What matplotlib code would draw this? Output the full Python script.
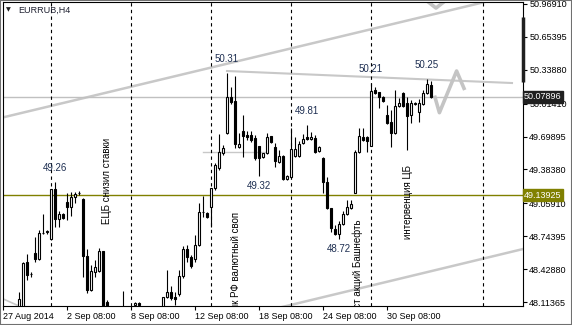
import numpy as np
import matplotlib
matplotlib.use("Agg")
import matplotlib.pyplot as plt
from matplotlib.patches import Rectangle
from matplotlib.transforms import blended_transform_factory

plt.rcParams['font.family'] = ['Liberation Sans', 'DejaVu Sans']

nan = np.nan
# H4 bars, one per 4 px slot (nan = bar lies below the visible range)
opens = [48.02, 48.06, 48.50, 48.38, 48.58, 48.53, 48.775, 48.785, 48.72, 49.20,
         48.91, 48.96, 49.07, 49.02, 49.12, 49.155, 49.10, 48.56, 48.23, 48.40,
         48.41, 48.60, 48.11, nan, nan, nan, 48.03, nan, nan, 48.085,
         48.105, nan, nan, nan, nan, nan, 48.02, 48.16, 48.21, 48.16,
         48.19, 48.36, 48.62, 48.545, 48.525, 48.66, 48.975, 48.965, 49.025, 49.205,
         49.40, 49.54, 49.73, 50.08, 50.04, 49.60, 49.75, 49.715, 49.715, 49.685,
         49.61, 49.50, 49.54, 49.705, 49.60, 49.455, 49.515, 49.29, 49.31, 49.515,
         49.515, 49.635, 49.695, 49.675, 49.685, 49.56, 49.495, 49.265, 49.015, 48.815,
         48.765, 48.86, 48.955, 49.015, 49.16, 49.55, 49.695, 49.695, 49.61, 50.145,
         50.125, 50.08, 49.905, 49.84, 49.735, 49.99, 50.115, 50.02, 49.905, 50.01,
         49.935, 50.01, 50.115, 50.195]
highs = [48.21, 48.50, 48.57, 48.40, 48.74, 48.80, 48.96, 48.80, 49.20, 49.26,
         48.99, 48.97, 49.16, 49.17, 49.17, 49.18, 49.11, 48.62, 48.47, 48.52,
         48.63, 48.60, 48.13, nan, nan, nan, 48.22, nan, nan, 48.115,
         48.11, nan, nan, nan, nan, nan, 48.16, 48.42, 48.27, 48.21,
         48.42, 48.65, 48.66, 48.565, 48.755, 49.06, 49.13, 48.975, 49.205, 49.445,
         49.725, 49.62, 50.31, 50.175, 50.28, 49.73, 49.905, 49.75, 49.75, 49.715,
         49.61, 49.54, 49.73, 49.705, 49.635, 49.57, 49.52, 49.33, 49.78, 49.695,
         49.655, 49.725, 49.81, 49.74, 49.715, 49.61, 49.505, 49.31, 49.015, 48.85,
         48.89, 48.985, 49.09, 49.09, 49.57, 49.78, 49.78, 49.705, 50.21, 50.175,
         50.125, 50.09, 50.00, 49.955, 50.145, 50.07, 50.125, 50.08, 50.05, 50.03,
         50.06, 50.145, 50.25, 50.23]
lows = [47.99, 48.04, 48.33, 48.35, 48.50, 48.52, 48.77, 48.77, 48.71, 48.83,
        48.83, 48.91, 48.90, 48.94, 49.06, 49.14, 48.35, 48.20, 48.22, 48.35,
        48.40, 47.99, 48.02, nan, nan, nan, 47.98, nan, nan, 48.04,
        48.04, nan, nan, nan, nan, nan, 47.99, 48.15, 48.13, 48.085,
        48.17, 48.34, 48.50, 48.44, 48.50, 48.65, 48.93, 48.92, 48.83, 49.19,
        49.38, 49.52, 49.72, 50.01, 49.59, 49.59, 49.505, 49.665, 49.645, 49.475,
        49.32, 49.495, 49.53, 49.635, 49.405, 49.445, 49.285, 49.285, 49.30, 49.505,
        49.505, 49.63, 49.665, 49.665, 49.54, 49.55, 49.16, 49.005, 48.785, 48.755,
        48.72, 48.85, 48.945, 49.005, 49.16, 49.54, 49.655, 49.55, 49.61, 50.105,
        49.975, 50.03, 49.82, 49.60, 49.725, 49.98, 49.98, 49.57, 49.83, 50.00,
        49.84, 50.00, 50.105, 50.07]
closes = [48.14, 48.49, 48.37, 48.385, 48.53, 48.78, 48.78, 48.79, 49.20, 48.91,
          48.96, 48.92, 49.02, 49.12, 49.15, 49.16, 48.555, 48.23, 48.41, 48.45,
          48.60, 48.02, 48.04, nan, nan, nan, 47.99, nan, nan, 48.105,
          48.085, nan, nan, nan, nan, nan, 48.16, 48.21, 48.15, 48.14,
          48.36, 48.62, 48.545, 48.46, 48.66, 48.975, 48.98, 48.93, 49.205, 49.425,
          49.55, 49.59, 50.08, 50.03, 49.63, 49.63, 49.705, 49.695, 49.665, 49.495,
          49.495, 49.54, 49.695, 49.645, 49.465, 49.515, 49.29, 49.32, 49.58, 49.58,
          49.63, 49.675, 49.675, 49.695, 49.55, 49.60, 49.265, 49.015, 48.825, 48.765,
          48.86, 48.955, 49.025, 49.055, 49.55, 49.705, 49.665, 49.655, 50.135, 50.115,
          50.08, 50.04, 49.83, 49.735, 49.99, 50.02, 49.99, 49.895, 50.02, 50.02,
          50.02, 50.115, 50.20, 50.079]

y_ticks = [50.96910, 50.65395, 50.33880, 50.01410, 49.69895, 49.38380,
           49.05910, 48.74395, 48.42880, 48.11365]
x_tick_pos = [-4, 12, 28, 44, 60, 76, 92]
x_tick_labels = ['27 Aug 2014', '2 Sep 08:00', '8 Sep 08:00', '12 Sep 08:00',
                 '18 Sep 08:00', '24 Sep 08:00', '30 Sep 08:00']
separators = [8, 28, 48, 68, 88, 116]

bid = 50.07896
level = 49.13925

# extreme labels: (bar index, price, above?)
extremes = [(9, 49.26, True), (52, 50.31, True), (60, 49.32, False),
            (72, 49.81, True), (80, 48.72, False), (88, 50.21, True), (102, 50.25, True)]

# news notes: (bar index, price, text, vertical anchor)
notes = [(22, 49.274, 'ЕЦБ снизил ставки', 'center'),
         (54.25, 48.976, 'Банк РФ валютный своп', 'top'),
         (84.75, 48.909, 'Арест акций Башнефть', 'top'),
         (97.25, 49.072, 'интервенция ЦБ', 'center')]

# drawn objects: (x0, p0, x1, p1)
channel_top = (4.75, 49.963, 45.5, 50.337)
channel_bot = (80.25, 48.20, 126.0, 48.622)
resistance = (52, 50.327, 123.25, 50.212)
zigzag_x = [104, 105.1, 109.4, 111.25]
zigzag_p = [50.075, 49.928, 50.327, 50.161]

fig = plt.figure(figsize=(5.72, 3.25), dpi=100)
ax = fig.add_axes([3 / 572, 19 / 325, 520 / 572, 304 / 325])
ax.set_xlim(-4, 126)
ax.set_ylim(48.0764, 50.988)

o = np.array(opens); h = np.array(highs); l = np.array(lows); c = np.array(closes)
idx = np.arange(len(o))

# trend lines
def extend(seg, x_a, x_b):
    x0, p0, x1, p1 = seg
    k = (p1 - p0) / (x1 - x0)
    return [x_a, x_b], [p0 + k * (x_a - x0), p0 + k * (x_b - x0)]

lc = '#c8c8c8'
xs, ps = extend(channel_top, -5, 127)
ax.plot(xs, ps, color=lc, lw=1.8, zorder=1)
xs, ps = extend(channel_bot, 60, 127)
ax.plot(xs, ps, color=lc, lw=1.8, zorder=1)
ax.plot([-5, -0.5], [48.162, 48.085], color=lc, lw=1.2, zorder=1)
ax.plot(resistance[0::2], resistance[1::2], color=lc, lw=1.5, zorder=1)
ax.plot([46, 62], [49.551, 49.551], color=lc, lw=1.0, zorder=1)
ax.plot(zigzag_x, zigzag_p, color='#c4c4c4', lw=2.6, zorder=1)
ax.plot([102.25, 104.25, 106.25], [50.99, 50.93, 50.99], color='#c4c4c4', lw=2.6, zorder=1)

ax.axhline(bid, color='#c0c0c0', lw=1.0, zorder=1)
ax.axhline(level, color='#808000', lw=1.0, zorder=1)

for s in separators:
    ax.axvline(s, color='black', lw=0.8, ls=(0, (3, 3)), zorder=1)

# candles
ax.vlines(idx, l, h, color='black', lw=0.8, zorder=2)
bull = c >= o
body_lo = np.minimum(o, c)
body_h = np.maximum(np.abs(c - o), 0.004)
ax.bar(idx[bull], body_h[bull], 0.5, bottom=body_lo[bull], color='white',
       edgecolor='black', lw=0.8, zorder=3)
ax.bar(idx[~bull], body_h[~bull], 0.5, bottom=body_lo[~bull], color='black',
       edgecolor='black', lw=0.8, zorder=3)

lab_col = '#1e2f52'
for i, p, up in extremes:
    ax.annotate(f'{p:.2f}', (i, p), xytext=(0, 14 if up else -10),
                textcoords='offset pixels', ha='center', va='center',
                fontsize=7, color=lab_col)

for i, p, s, va in notes:
    t = ax.text(i, p, s, rotation=90, ha='center', va=va, fontsize=7,
                color='black', clip_on=True)
    t.set_clip_box(ax.bbox)

# axes styling
for sp in ax.spines.values():
    sp.set_color('black')
    sp.set_linewidth(0.8)
ax.yaxis.tick_right()
ax.set_yticks(y_ticks)
ax.set_yticklabels([f'{v:.5f}' for v in y_ticks])
ax.set_xticks(x_tick_pos)
ax.set_xticklabels(x_tick_labels, ha='left')
ax.tick_params(axis='both', labelsize=6.5, length=3, width=0.8, pad=1.5, colors='black')

tr = blended_transform_factory(ax.transAxes, ax.transData)
ax.plot([1.0, 1.0], [50.845, 50.222], transform=tr, color='#202020', lw=2.5,
        solid_capstyle='butt', clip_on=False, zorder=5)
ax.text(1.002, bid, f'{bid:.5f}', transform=tr, fontsize=6.5, color='white',
        va='center', ha='left', zorder=10, clip_on=False,
        bbox=dict(boxstyle='square,pad=0.15', fc='#202020', ec='#202020'))
ax.text(1.002, level, f'{level:.5f}', transform=tr, fontsize=6.5, color='white',
        va='center', ha='left', zorder=10, clip_on=False,
        bbox=dict(boxstyle='square,pad=0.15', fc='#808000', ec='#808000'))

fig.text(8 / 572, 1 - 10 / 325, '▼', fontsize=4.5, family='DejaVu Sans',
         ha='center', va='center', color='#202020')
fig.text(18 / 572, 1 - 10 / 325, 'EURRUB,H4', fontsize=6.5, ha='left',
         va='center', color='#1e2030')

fig.patches.append(Rectangle((0, 0), 1, 1, transform=fig.transFigure, fill=False,
                             ec='#707070', lw=1.5))

fig.savefig('out.png', dpi=100)
